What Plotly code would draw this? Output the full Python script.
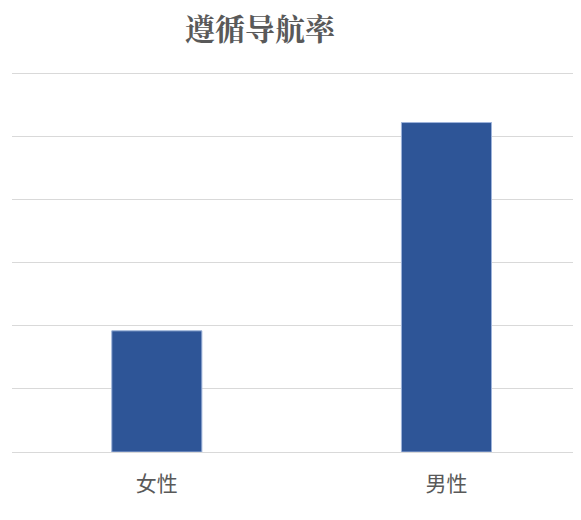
import plotly.graph_objects as go

categories = ["女性", "男性"]
values = [0.192, 0.522]
title_text = "遵循导航率"

# page body has an 8px default margin, so figure is 8px smaller
W, H = 573, 512
L, R, T, B = 4, 1, 59, 68
pw, ph = W - L - R, H - T - B

fig = go.Figure()
fig.add_trace(go.Bar(
    x=categories,
    y=values,
    width=0.311,
    marker=dict(color="#2E5597", line=dict(color="#9DB3DA", width=1)),
    hoverinfo="x+y",
))

fig.update_layout(
    width=W,
    height=H,
    margin=dict(l=L, r=R, t=T, b=B, autoexpand=False),
    paper_bgcolor="white",
    plot_bgcolor="white",
    showlegend=False,
    font=dict(family="Noto Sans CJK SC", color="#595959"),
    title=dict(
        text="<b>" + title_text + "</b>",
        xref="container", yref="container",
        x=252 / W, y=1 - 21 / H,
        xanchor="center", yanchor="middle",
        font=dict(size=30, color="#595959", family="Noto Serif CJK SC, Noto Sans CJK SC"),
    ),
    xaxis=dict(
        type="category",
        range=[-0.5, 1.461],
        showgrid=False,
        showline=False,
        zeroline=False,
        ticks="",
        tickfont=dict(size=21, color="#595959", family="Noto Sans CJK SC"),
        ticklabelstandoff=17,
    ),
    yaxis=dict(
        range=[0, 0.61],
        tick0=0,
        dtick=0.1,
        showgrid=True,
        gridcolor="#D9D9D9",
        gridwidth=1,
        zeroline=True,
        zerolinecolor="#D9D9D9",
        zerolinewidth=1,
        showticklabels=False,
        ticks="",
    ),
)

fig.write_html("out.html")
